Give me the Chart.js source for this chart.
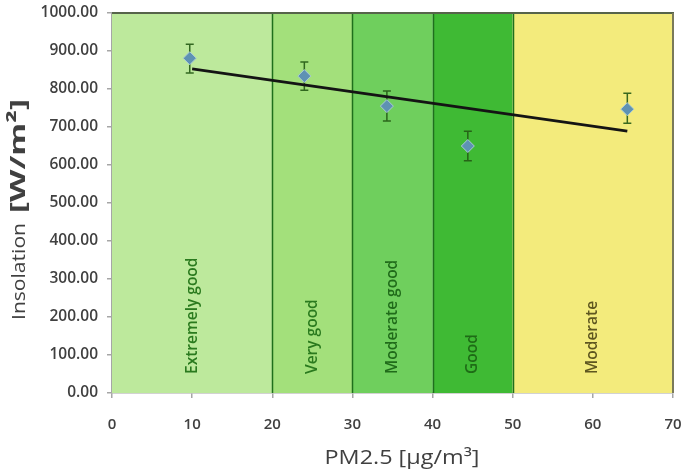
<!DOCTYPE html>
<html>
<head>
<meta charset="utf-8">
<script src="https://cdn.jsdelivr.net/npm/chart.js@4/dist/chart.umd.min.js"></script>
<style>
  html, body { margin: 0; padding: 0; background: #ffffff; }
  #wrap { width: 682px; height: 472px; }
</style>
</head>
<body>
<div id="wrap"><canvas id="c" width="682" height="472"></canvas></div>
<script>
// ---- data ----
const pmValues = [9.7, 24.0, 34.3, 44.4, 64.3];
const insolation = [881, 834, 755, 650, 747];
const errorPlus = [37, 37, 40, 39, 42];
const errorMinus = [39, 37, 39, 39, 37];

const trendX = [10, 64.3];
const trendY = [853, 689];

const bandStart = [0, 20, 30, 40, 50];
const bandEnd = [20, 30, 40, 50, 70];
const bandLabels = ['Extremely good', 'Very good', 'Moderate good', 'Good', 'Moderate'];

const xTicks = [0, 10, 20, 30, 40, 50, 60, 70];
const yTicks = [0, 100, 200, 300, 400, 500, 600, 700, 800, 900, 1000];

const xTitle = 'PM2.5 [μg/m³]';
const yTitleMain = 'Insolation';
const yTitleUnit = '[W/m²]';

// ---- styles ----
const bandColors = ['#bde99c', '#a3e07b', '#6fcf5d', '#3fba34', '#f3eb7c'];
const bandTextColors = ['#2a7a1e', '#2a7a1e', '#206b1a', '#1e6b16', '#5e5620'];
const bandLineColor = '#1f6f1c';
const textColor = '#404040';
const axisColor = '#a6a6a6';

const points = pmValues.map((x, i) => ({ x: x, y: insolation[i] }));
const trend = trendX.map((x, i) => ({ x: x, y: trendY[i] }));

function drawStretched(ctx, text, font, color, x, y, angle, targetLen, align) {
  ctx.save();
  ctx.font = font;
  ctx.fillStyle = color;
  const w = ctx.measureText(text).width;
  const s = targetLen / w;
  ctx.translate(x, y);
  ctx.rotate(angle);
  ctx.scale(s, 1);
  ctx.textAlign = align;
  ctx.textBaseline = 'middle';
  ctx.fillText(text, 0, 0);
  ctx.restore();
}

const bandsPlugin = {
  id: 'bands',
  beforeDatasetsDraw(chart) {
    const { ctx, chartArea, scales } = chart;
    const xs = scales.x;
    ctx.save();
    for (let i = 0; i < bandStart.length; i++) {
      const x0 = xs.getPixelForValue(bandStart[i]);
      const x1 = xs.getPixelForValue(bandEnd[i]);
      ctx.fillStyle = bandColors[i];
      ctx.fillRect(x0, chartArea.top, x1 - x0, chartArea.bottom - chartArea.top);
    }
    ctx.strokeStyle = bandLineColor;
    ctx.lineWidth = 1.5;
    for (let i = 1; i < bandStart.length; i++) {
      const x = Math.round(xs.getPixelForValue(bandStart[i])) + 0.5;
      ctx.beginPath();
      ctx.moveTo(x, chartArea.top);
      ctx.lineTo(x, chartArea.bottom);
      ctx.stroke();
    }
    ctx.strokeStyle = '#56644a';
    ctx.lineWidth = 2;
    ctx.beginPath();
    ctx.moveTo(chartArea.left, chartArea.top);
    ctx.lineTo(chartArea.right + 1, chartArea.top);
    ctx.stroke();
    ctx.strokeStyle = '#7a7a5a';
    ctx.lineWidth = 2;
    ctx.beginPath();
    ctx.moveTo(chartArea.right, chartArea.top);
    ctx.lineTo(chartArea.right, chartArea.bottom);
    ctx.stroke();
    ctx.font = '600 15.5px "Open Sans"';
    ctx.textAlign = 'left';
    ctx.textBaseline = 'middle';
    for (let i = 0; i < bandStart.length; i++) {
      const xc = (xs.getPixelForValue(bandStart[i]) + xs.getPixelForValue(bandEnd[i])) / 2;
      ctx.save();
      ctx.translate(xc, chartArea.bottom - 19);
      ctx.rotate(-Math.PI / 2);
      ctx.fillStyle = bandTextColors[i];
      ctx.fillText(bandLabels[i], 0, 0);
      ctx.restore();
    }
    const ys = scales.y;
    ctx.strokeStyle = 'rgba(35,90,20,0.9)';
    ctx.lineWidth = 1.5;
    for (let i = 0; i < pmValues.length; i++) {
      const x = xs.getPixelForValue(pmValues[i]);
      const yTop = ys.getPixelForValue(insolation[i] + errorPlus[i]);
      const yBot = ys.getPixelForValue(insolation[i] - errorMinus[i]);
      ctx.beginPath();
      ctx.moveTo(x, yTop); ctx.lineTo(x, yBot);
      ctx.moveTo(x - 4, yTop); ctx.lineTo(x + 4, yTop);
      ctx.moveTo(x - 4, yBot); ctx.lineTo(x + 4, yBot);
      ctx.stroke();
    }
    ctx.restore();
  },
  afterDraw(chart) {
    const { ctx } = chart;
    drawStretched(ctx, xTitle, '20px "Open Sans"', textColor, 402, 458, 0, 155, 'center');
    drawStretched(ctx, yTitleMain, '19px "Open Sans"', textColor, 20, 320, -Math.PI / 2, 97, 'left');
    drawStretched(ctx, yTitleUnit, 'bold 22px "Open Sans"', textColor, 19, 213, -Math.PI / 2, 114, 'left');
  }
};

new Chart(document.getElementById('c'), {
  type: 'scatter',
  data: {
    datasets: [
      {
        label: 'Insolation',
        data: points,
        pointStyle: 'rectRot',
        pointRadius: 6.5,
        backgroundColor: '#5e92b3',
        borderColor: '#a9cbd3',
        borderWidth: 1,
        order: 0
      },
      {
        label: 'Trend',
        data: trend,
        showLine: true,
        borderColor: '#141414',
        borderWidth: 2.8,
        pointRadius: 0,
        order: 1
      }
    ]
  },
  options: {
    responsive: false,
    animation: false,
    devicePixelRatio: 1,
    layout: { padding: { top: 13, right: 9, left: 0, bottom: 0 } },
    plugins: { legend: { display: false }, tooltip: { enabled: false } },
    scales: {
      x: {
        type: 'linear',
        min: 0, max: 70,
        afterBuildTicks(scale) { scale.ticks = xTicks.map(v => ({ value: v })); },
        afterFit(scale) { scale.height = 79; scale.paddingLeft = 0; scale.paddingRight = 0; },
        ticks: { color: textColor, font: { family: 'Open Sans', size: 15, weight: '600' }, padding: 18, maxRotation: 0 },
        grid: { drawOnChartArea: false, tickLength: 5, color: axisColor, lineWidth: 1.5 },
        border: { display: true, color: axisColor, width: 1.5 },
        title: { display: false }
      },
      y: {
        type: 'linear',
        min: 0, max: 1000,
        afterBuildTicks(scale) { scale.ticks = yTicks.map(v => ({ value: v })); },
        afterFit(scale) { scale.width = 112; scale.paddingTop = 0; scale.paddingBottom = 0; },
        ticks: { color: textColor, font: { family: 'Open Sans', size: 15.5, weight: '600' }, padding: 9, callback: v => Number(v).toFixed(2) },
        grid: { drawOnChartArea: false, tickLength: 5, color: axisColor, lineWidth: 1.5 },
        border: { display: true, color: axisColor, width: 1.5 },
        title: { display: false }
      }
    }
  },
  plugins: [bandsPlugin]
});
</script>
</body>
</html>
